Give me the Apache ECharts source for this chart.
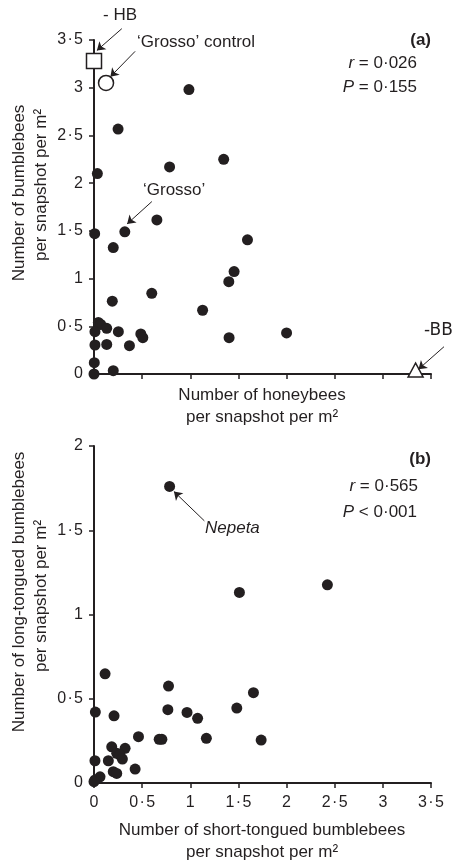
<!DOCTYPE html>
<html>
<head>
<meta charset="utf-8">
<script src="https://cdn.jsdelivr.net/npm/echarts@6/dist/echarts.min.js"></script>
<style>
	html, body {margin:0; padding:0; background:#fff;}
	#ScatterChart {width:460px; height:862px;}
</style>
</head>
<body>
<div id="ScatterChart"></div>
<script>
//(a) honeybees vs bumblebees
var honeyX = [0.986, 0.25, 0.035, 0.785, 1.347, 0.007, 0.32, 0.653, 0.2, 1.594, 1.455, 1.40, 0.6, 0.19, 1.128,
	0.045, 0.07, 0.01, 0.132, 0.253, 0.486, 0.507, 1.403, 2.0, 0.01, 0.132, 0.368, 0.003, 0, 0.2];
var bumbleY = [2.98, 2.567, 2.10, 2.17, 2.25, 1.47, 1.49, 1.615, 1.325, 1.406, 1.073, 0.968, 0.846, 0.763, 0.668,
	0.54, 0.52, 0.444, 0.479, 0.444, 0.42, 0.381, 0.381, 0.43, 0.304, 0.31, 0.297, 0.119, 0, 0.035];
var hbPoint = [0, 3.28];      //- HB
var controlPoint = [0.125, 3.05]; //'Grosso' control
var bbPoint = [3.34, 0];      //-BB

//(b) short-tongued vs long-tongued bumblebees
var shortX = [0.785, 1.51, 2.424, 0.115, 0.774, 1.656, 1.483, 0.767, 0.966, 1.076, 0.014, 0.208, 0.462, 0.677, 0.705,
	1.167, 1.736, 0.184, 0.323, 0.236, 0.27, 0.149, 0.295, 0.01, 0.2, 0.236, 0.427, 0.0625, 0.01, 0];
var longY = [1.76, 1.131, 1.176, 0.648, 0.575, 0.536, 0.445, 0.435, 0.419, 0.384, 0.421, 0.399, 0.275, 0.259, 0.259,
	0.265, 0.255, 0.215, 0.206, 0.176, 0.166, 0.132, 0.142, 0.132, 0.067, 0.057, 0.083, 0.037, 0.018, 0.008];

function pairs(xs, ys) {
	var out = [];
	for (var i = 0; i < xs.length; i++) {
		out.push([xs[i], ys[i]]);
	}
	return out;
}

//decimal point drawn as a middle dot
function fmt(v) {
	return String(v).replace('.', '\u200A·\u200A');
}

var ink = '#231f20';
var font = 'Liberation Sans, Arial, sans-serif';

function makeAxis(idx, max, showLabel, margin) {
	return {
		type: 'value',
		gridIndex: idx,
		min: 0,
		max: max,
		interval: 0.5,
		axisLine: {show: true, onZero: false, lineStyle: {color: ink, width: 2}},
		axisTick: {show: true, length: 5, lineStyle: {color: ink, width: 1.5}},
		axisLabel: {show: showLabel, color: ink, fontSize: 16, fontFamily: font, margin: margin, formatter: fmt},
		splitLine: {show: false}
	};
}

//annotation arrows (lines series, drawn through the axes)
function arrowSeries(idx, list) {
	return {
		type: 'lines',
		coordinateSystem: 'cartesian2d',
		xAxisIndex: idx, yAxisIndex: idx,
		clip: false,
		silent: true,
		symbol: ['none', 'arrow'],
		symbolSize: 8,
		lineStyle: {color: ink, width: 1, opacity: 1},
		data: list.map(function (a) { return {coords: a}; }),
		z: 5
	};
}

function txt(x, y, text, opts) {
	var st = {
		text: text,
		x: x,
		y: y,
		fill: ink,
		font: (opts && opts.font) || ('17px ' + font),
		textAlign: (opts && opts.align) || 'left',
		textVerticalAlign: 'middle'
	};
	if (opts && opts.rich) st.rich = opts.rich;
	var el = {type: 'text', style: st, z: 10};
	if (opts && opts.rotate) {
		el.style.x = 0;
		el.style.y = 0;
		el.x = x;
		el.y = y;
		el.rotation = opts.rotate;
	}
	return el;
}

var italic = {i: {fontStyle: 'italic', fontSize: 17, fontFamily: font, color: ink}, n: {fontSize: 17, fontFamily: font, color: ink}};
var openStyle = {color: '#fff', borderColor: ink, borderWidth: 1.5, opacity: 1};

var myChart = echarts.init(document.getElementById('ScatterChart'));
option = {
	backgroundColor: '#fff',
	animation: false,
	grid: [
		{left: 94, top: 40, width: 337, height: 334},
		{left: 94, top: 446, width: 337, height: 337}
	],
	xAxis: [
		makeAxis(0, 3.5, false, 12),
		makeAxis(1, 3.5, true, 12)
	],
	yAxis: [
		makeAxis(0, 3.5, true, 11),
		makeAxis(1, 2, true, 11)
	],
	series: [
		{
			type: 'scatter',
			xAxisIndex: 0, yAxisIndex: 0,
			data: pairs(honeyX, bumbleY),
			symbolSize: 11,
			clip: false,
			itemStyle: {color: ink, opacity: 1}
		},
		{
			type: 'scatter',
			xAxisIndex: 0, yAxisIndex: 0,
			data: [hbPoint],
			symbol: 'rect',
			symbolSize: 15,
			clip: false,
			itemStyle: openStyle
		},
		{
			type: 'scatter',
			xAxisIndex: 0, yAxisIndex: 0,
			data: [controlPoint],
			symbol: 'circle',
			symbolSize: 15,
			clip: false,
			itemStyle: openStyle
		},
		{
			type: 'scatter',
			xAxisIndex: 0, yAxisIndex: 0,
			data: [bbPoint],
			symbol: 'triangle',
			symbolSize: [15, 14],
			symbolOffset: [0, -4],
			clip: false,
			itemStyle: openStyle
		},
		arrowSeries(0, [
			[[0.289, 3.619], [0.03, 3.39]],
			[[0.427, 3.381], [0.17, 3.115]],
			[[0.601, 1.807], [0.344, 1.573]],
			[[3.635, 0.286], [3.37, 0.05]]
		]),
		{
			type: 'scatter',
			xAxisIndex: 1, yAxisIndex: 1,
			data: pairs(shortX, longY),
			symbolSize: 11,
			clip: false,
			itemStyle: {color: ink, opacity: 1}
		},
		arrowSeries(1, [
			[[1.146, 1.556], [0.83, 1.73]]
		])
	],
	graphic: [
		//panel (a)
		txt(103, 15, '- HB'),
		txt(137, 42, '‘Grosso’ control'),
		txt(143, 190, '‘Grosso’'),
		txt(424, 331, '-BB', {font: '17px DejaVu Sans, sans-serif'}),
		txt(431, 40, '(a)', {font: 'bold 17px ' + font, align: 'right'}),
		txt(417, 63, '{i|r}{n| = 0·026}', {align: 'right', rich: italic}),
		txt(417, 87, '{i|P}{n| = 0·155}', {align: 'right', rich: italic}),
		txt(262, 395, 'Number of honeybees', {align: 'center'}),
		txt(262, 417, 'per snapshot per m²', {align: 'center'}),
		txt(19, 193, 'Number of bumblebees', {align: 'center', rotate: Math.PI / 2}),
		txt(41, 185, 'per snapshot per m²', {align: 'center', rotate: Math.PI / 2}),
		//panel (b)
		txt(431, 459, '(b)', {font: 'bold 17px ' + font, align: 'right'}),
		txt(418, 486, '{i|r}{n| = 0·565}', {align: 'right', rich: italic}),
		txt(417, 512, '{i|P}{n| < 0·001}', {align: 'right', rich: italic}),
		txt(205, 528, 'Nepeta', {font: 'italic 17px ' + font}),
		txt(262, 830, 'Number of short-tongued bumblebees', {align: 'center'}),
		txt(262, 852, 'per snapshot per m²', {align: 'center'}),
		txt(19, 592, 'Number of long-tongued bumblebees', {align: 'center', rotate: Math.PI / 2}),
		txt(41, 596, 'per snapshot per m²', {align: 'center', rotate: Math.PI / 2})
	]
};

myChart.setOption(option);
window.onresize = myChart.resize;
</script>
</body>
</html>
